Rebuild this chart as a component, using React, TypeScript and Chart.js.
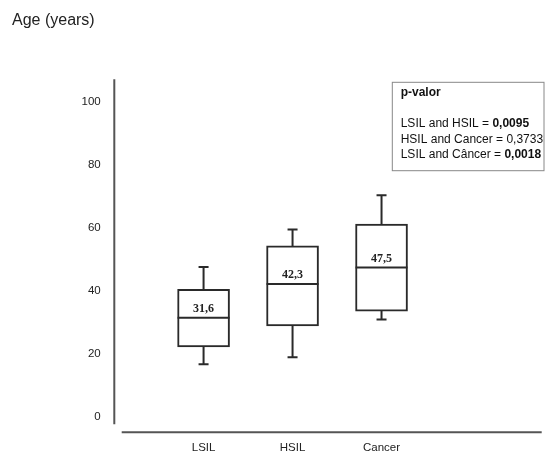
import React, { useEffect, useRef } from "react";
import { Chart, registerables } from "chart.js";

Chart.register(...registerables);

const categories = ["LSIL", "HSIL", "Cancer"];
const whiskerMin = [16.8, 19, 31];
const q1 = [22.3, 29, 33.7];
const medians = [31.6, 42.3, 47.5];
const q3 = [40.6, 54.4, 61.3];
const whiskerMax = [47.7, 59.6, 70.5];
const medianLabels = ["31,6", "42,3", "47,5"];
const yTicks = [0, 20, 40, 60, 80, 100];

const titleText = "Age (years)";
const pTitle = "p-valor";
const pPairs = ["LSIL and HSIL = ", "HSIL and Cancer = ", "LSIL and Câncer = "];
const pValues = ["0,0095", "0,3733", "0,0018"];
const pBold = [true, false, true];

const LINE = "#2a2a2a";
const SANS = "'Liberation Sans', Arial, sans-serif";
const SERIF = "'Liberation Serif', 'Times New Roman', serif";

const boxPlugin = {
  id: "boxExtras",
  afterDatasetsDraw(chart: any) {
    const ctx = chart.ctx;
    const xs = chart.scales.x;
    const ys = chart.scales.y;
    const area = chart.chartArea;
    ctx.save();
    // axis lines
    ctx.strokeStyle = "#555";
    ctx.lineWidth = 2;
    ctx.beginPath();
    ctx.moveTo(area.left - 7.4, area.top);
    ctx.lineTo(area.left - 7.4, area.bottom - 8);
    ctx.stroke();
    ctx.beginPath();
    ctx.moveTo(area.left, area.bottom);
    ctx.lineTo(area.right, area.bottom);
    ctx.stroke();

    // whiskers, medians, labels
    const meta = chart.getDatasetMeta(0);
    ctx.strokeStyle = LINE;
    ctx.lineWidth = 2;
    categories.forEach((_, i) => {
      const el = meta.data[i];
      const cx = xs.getPixelForValue(i + 1);
      const half = el ? el.width / 2 : 26;
      const yMin = ys.getPixelForValue(whiskerMin[i]);
      const yQ1 = ys.getPixelForValue(q1[i]);
      const yMed = ys.getPixelForValue(medians[i]);
      const yQ3 = ys.getPixelForValue(q3[i]);
      const yMax = ys.getPixelForValue(whiskerMax[i]);
      ctx.beginPath();
      ctx.moveTo(cx, yQ3);
      ctx.lineTo(cx, yMax);
      ctx.moveTo(cx - 5, yMax);
      ctx.lineTo(cx + 5, yMax);
      ctx.moveTo(cx, yQ1);
      ctx.lineTo(cx, yMin);
      ctx.moveTo(cx - 5, yMin);
      ctx.lineTo(cx + 5, yMin);
      ctx.moveTo(cx - half, yMed);
      ctx.lineTo(cx + half, yMed);
      ctx.stroke();
      ctx.fillStyle = "#222";
      ctx.font = `bold 12px ${SERIF}`;
      ctx.textAlign = "center";
      ctx.textBaseline = "middle";
      ctx.fillText(medianLabels[i], cx, yMed - 9);
    });

    // p-value box
    const bx = 392.3;
    const by = 82.3;
    const bw = 544 - bx;
    const bh = 170.7 - by;
    ctx.strokeStyle = "#888";
    ctx.lineWidth = 1;
    ctx.strokeRect(bx, by, bw, bh);
    ctx.fillStyle = "#111";
    ctx.textAlign = "left";
    ctx.textBaseline = "middle";
    ctx.font = `bold 12px ${SANS}`;
    ctx.fillText(pTitle, bx + 8.4, 93);
    const lineYs = [124, 139.5, 155];
    pPairs.forEach((t, i) => {
      ctx.font = `12px ${SANS}`;
      ctx.fillText(t, bx + 8.4, lineYs[i]);
      const w = ctx.measureText(t).width;
      ctx.font = `${pBold[i] ? "bold " : ""}12px ${SANS}`;
      ctx.fillText(pValues[i], bx + 8.4 + w, lineYs[i]);
    });
    ctx.restore();
  },
};

const zeroPad = (s: any) => {
  s.paddingTop = 0;
  s.paddingBottom = 0;
  s.paddingLeft = 0;
  s.paddingRight = 0;
};

export default function App() {
  const ref = useRef<HTMLCanvasElement | null>(null);
  useEffect(() => {
    if (!ref.current) return;
    const chart = new Chart(ref.current, {
      type: "bar",
      data: {
        datasets: [
          {
            data: categories.map((_, i) => ({ x: i + 1, y: [q1[i], q3[i]] })) as any,
            backgroundColor: "#ffffff",
            borderColor: LINE,
            borderWidth: 2,
            borderSkipped: false,
            barThickness: 52,
          },
        ],
      },
      options: {
        responsive: false,
        animation: false,
        devicePixelRatio: 1,
        layout: { padding: { left: 12, right: 5.3, top: 0, bottom: 0 } },
        plugins: {
          legend: { display: false },
          tooltip: { enabled: false },
          title: {
            display: true,
            text: titleText,
            align: "start",
            color: "#222",
            font: { family: SANS, size: 16, weight: "normal", lineHeight: 1.2 },
            padding: { top: 10.9, bottom: 49.2 },
          },
        },
        scales: {
          x: {
            type: "linear",
            offset: false,
            min: 0.08,
            max: 4.8,
            grid: { display: false, drawTicks: false },
            border: { display: false },
            afterBuildTicks: (s: any) => {
              s.ticks = categories.map((_, i) => ({ value: i + 1 }));
            },
            afterFit: (s: any) => {
              s.height = 20.7;
              zeroPad(s);
            },
            ticks: {
              color: "#222",
              padding: 9,
              maxRotation: 0,
              autoSkip: false,
              font: { family: SANS, size: 11.5 },
              callback: (v: any) => categories[Math.round(Number(v)) - 1] ?? "",
            },
          },
          y: {
            min: -4.8,
            max: 107.3,
            grid: { display: false, drawTicks: false },
            border: { display: false },
            afterBuildTicks: (s: any) => {
              s.ticks = yTicks.map((v) => ({ value: v }));
            },
            afterFit: (s: any) => {
              s.width = 109.7;
              zeroPad(s);
            },
            ticks: {
              color: "#222",
              padding: 21,
              font: { family: SANS, size: 11.5 },
            },
          },
        },
      },
      plugins: [boxPlugin],
    });
    return () => chart.destroy();
  }, []);
  return (
    <div style={{ position: "fixed", left: 0, top: 0, width: 547, height: 453, background: "#fff" }}>
      <canvas ref={ref} width={547} height={453} style={{ display: "block" }} />
    </div>
  );
}
